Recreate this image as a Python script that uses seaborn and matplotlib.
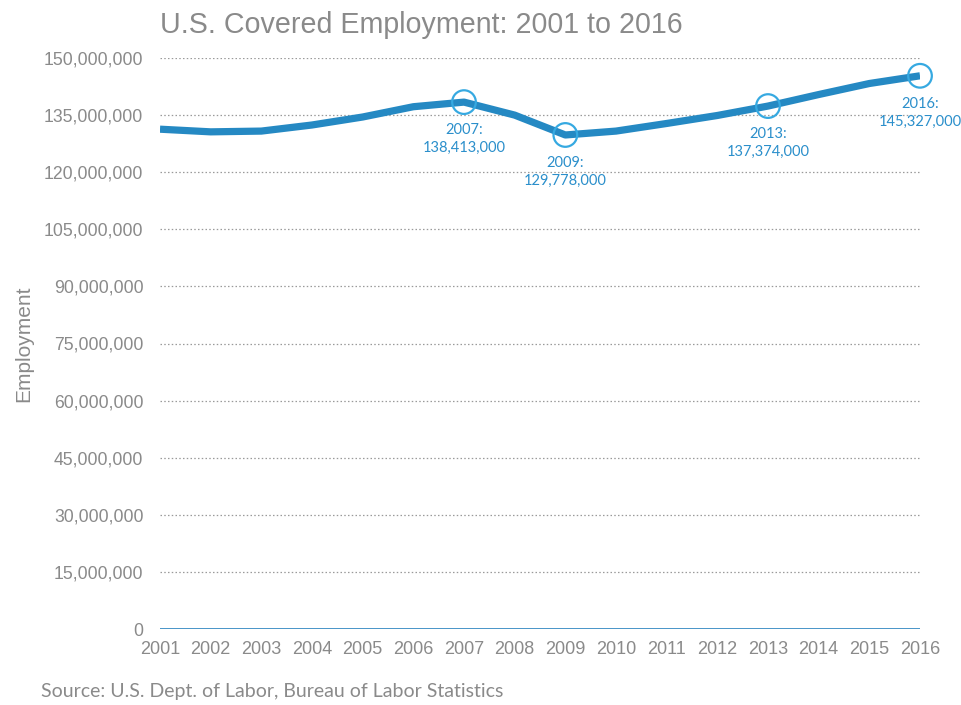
import matplotlib
matplotlib.use("Agg")
import matplotlib.pyplot as plt
import matplotlib.ticker as mticker
import seaborn as sns
import pandas as pd

# U.S. covered employment, annual values
years = [2001, 2002, 2003, 2004, 2005, 2006, 2007, 2008,
         2009, 2010, 2011, 2012, 2013, 2014, 2015, 2016]
employment = [131_300_000, 130_600_000, 130_800_000, 132_400_000,
              134_500_000, 137_200_000, 138_413_000, 135_000_000,
              129_778_000, 130_800_000, 132_800_000, 134_900_000,
              137_374_000, 140_400_000, 143_300_000, 145_327_000]

# Years called out with a ring and a value label
highlight_years = [2007, 2009, 2013, 2016]

y_ticks = list(range(0, 150_000_001, 15_000_000))

LINE_BLUE = "#2589c3"
RING_BLUE = "#36a9e1"
LABEL_BLUE = "#2b8fcb"
GREY = "#8a8a8a"

df = pd.DataFrame({"Year": years, "Employment": employment})
hl = df[df["Year"].isin(highlight_years)]

sns.set_style("white")
plt.rcParams["font.family"] = ["Liberation Sans", "DejaVu Sans"]

fig = plt.figure(figsize=(9.61, 7.05), dpi=100)
ax = fig.add_axes([160 / 961, 1 - 629 / 705, 760 / 961, 571 / 705])

sns.lineplot(data=df, x="Year", y="Employment", ax=ax, color=LINE_BLUE,
             linewidth=5.2, solid_capstyle="butt", solid_joinstyle="round")
rings = sns.scatterplot(data=hl, x="Year", y="Employment", ax=ax, s=290,
                        facecolor="none", edgecolor=RING_BLUE, linewidth=1.6,
                        zorder=5)
for coll in ax.collections:
    coll.set_clip_on(False)

for yr, val in zip(hl["Year"], hl["Employment"]):
    ax.annotate(f"{yr}:\n{val:,}", xy=(yr, val), xytext=(0, -15),
                textcoords="offset points", ha="center", va="top",
                fontsize=10.5, color=LABEL_BLUE, family=["Lato", "DejaVu Sans"],
                linespacing=1.35, annotation_clip=False)

ax.set_xlim(2001, 2016)
ax.set_ylim(0, 150_000_000)
ax.set_xticks(years)
ax.set_yticks(y_ticks)
ax.yaxis.set_major_formatter(mticker.FuncFormatter(lambda v, p: f"{int(v):,}"))

for t in y_ticks[1:]:
    ax.axhline(t, color="#9a9a9a", linewidth=0.9, linestyle=(0, (1.2, 1.8)),
               zorder=0)
ax.axhline(0, color="#3a8cc4", linewidth=1.3, zorder=1)

for s in ax.spines.values():
    s.set_visible(False)
ax.tick_params(axis="both", length=0, colors=GREY)
ax.tick_params(axis="y", pad=12, labelsize=12.7)
ax.tick_params(axis="x", pad=9, labelsize=13)

ax.set_xlabel("")
ax.set_ylabel("Employment", fontsize=15, color=GREY)
ax.yaxis.set_label_coords(-127 / 760, 0.5)

fig.text(160 / 961, 1 - 33 / 705, "U.S. Covered Employment: 2001 to 2016",
         fontsize=20.6, color=GREY, ha="left", va="baseline")
fig.text(41 / 961, 1 - 697 / 705,
         "Source: U.S. Dept. of Labor, Bureau of Labor Statistics",
         fontsize=14, color=GREY, ha="left", va="baseline",
         family=["Lato", "DejaVu Sans"])

fig.savefig("out.png", dpi=100)
